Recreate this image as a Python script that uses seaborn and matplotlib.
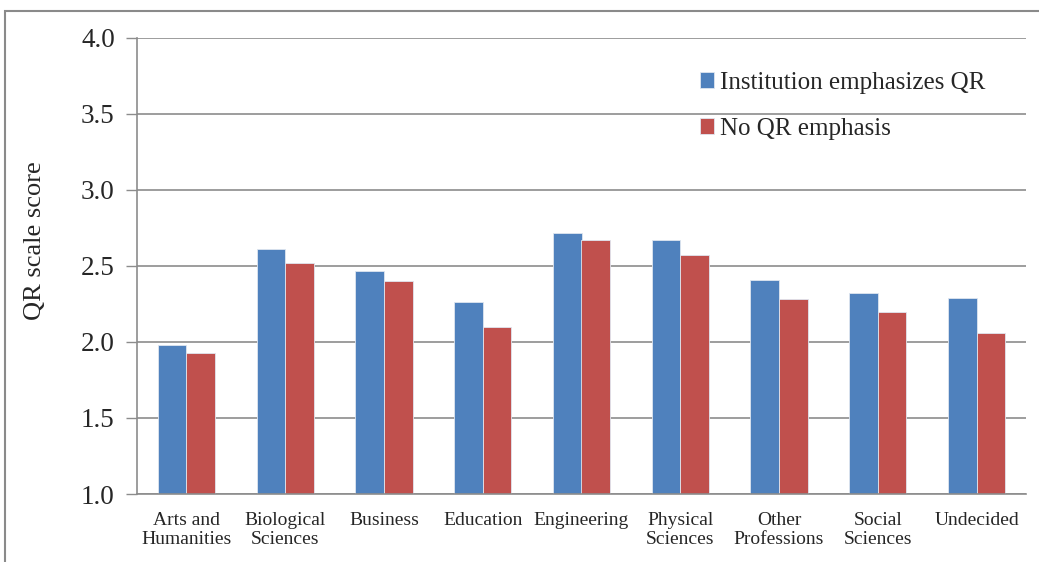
import matplotlib
matplotlib.use("Agg")
import matplotlib.pyplot as plt
import seaborn as sns
import pandas as pd
from matplotlib.patches import Rectangle

categories = ["Arts and\nHumanities", "Biological\nSciences", "Business", "Education",
              "Engineering", "Physical\nSciences", "Other\nProfessions", "Social\nSciences",
              "Undecided"]
series_names = ["Institution emphasizes QR", "No QR emphasis"]
emphasis = [1.98, 2.61, 2.47, 2.26, 2.72, 2.67, 2.41, 2.32, 2.29]
no_emphasis = [1.93, 2.52, 2.40, 2.10, 2.67, 2.57, 2.28, 2.20, 2.06]
y_ticks = [1.0, 1.5, 2.0, 2.5, 3.0, 3.5, 4.0]
colors = ["#4F81BD", "#C0504D"]

df = pd.DataFrame({
    "category": categories * 2,
    "series": [series_names[0]] * len(categories) + [series_names[1]] * len(categories),
    "value": emphasis + no_emphasis,
})

sns.set_theme(style="white")
plt.rcParams["font.family"] = ["Liberation Serif", "DejaVu Serif"]

fig = plt.figure(figsize=(10.39, 5.62), dpi=100)
ax = fig.add_axes([137 / 1039, 1 - 494 / 562, (1026 - 137) / 1039, (494 - 38) / 562])

sns.barplot(data=df, x="category", y="value", hue="series", palette=colors,
            order=categories, hue_order=series_names, width=0.58, ax=ax,
            edgecolor="#dfe6f0", linewidth=0.6, saturation=1)

ax.set_ylim(1.0, 4.0)
ax.set_xlim(-0.5, len(categories) - 0.5)
ax.set_yticks(y_ticks)
ax.set_yticklabels([f"{t:.1f}" for t in y_ticks], fontsize=19.5)
ax.yaxis.grid(True, color="#8c8c8c", linewidth=1.2)
ax.set_axisbelow(True)
ax.set_xticks(range(len(categories)))
ax.set_xticklabels(categories, fontsize=14, linespacing=1.15)
ax.set_xticks([i + 0.5 for i in range(-1, len(categories))], minor=True)
ax.tick_params(axis="x", which="major", length=0, pad=13)
ax.tick_params(axis="x", which="minor", length=8, color="#8c8c8c", width=1)
ax.tick_params(axis="y", length=8, color="#8c8c8c", width=1, pad=8, left=True)
ax.set_xlabel("")
ax.set_ylabel("QR scale score", fontsize=19)
ax.yaxis.set_label_coords(-0.102, 0.555)

for s in ["top", "right"]:
    ax.spines[s].set_visible(False)
for s in ["left", "bottom"]:
    ax.spines[s].set_color("#8c8c8c")
    ax.spines[s].set_linewidth(1.2)

leg = ax.legend(loc="upper left", bbox_to_anchor=(0.608, 0.975), frameon=False,
                fontsize=18, handlelength=0.55, handleheight=0.6, handletextpad=0.25,
                labelspacing=0.95)

fig.patches.append(Rectangle((5 / 1039, -0.1), 1.2, 0.1 + (562 - 11) / 562,
                             transform=fig.transFigure, fill=False,
                             edgecolor="#8a8a8a", linewidth=1.5))

fig.savefig("out.png", dpi=100)
